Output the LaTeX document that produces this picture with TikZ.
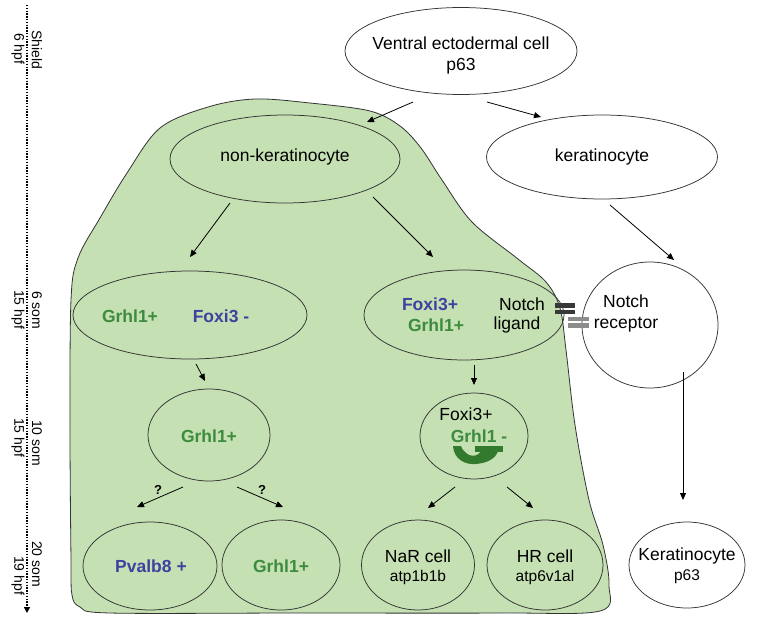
\documentclass[tikz,border=0pt]{standalone}
\usepackage{fontspec}
\setmainfont{Liberation Sans}
\usetikzlibrary{shapes.geometric,arrows.meta,calc}
\definecolor{blobgreen}{HTML}{C5E0B3}
\definecolor{gtext}{HTML}{3D8B3D}
\definecolor{btext}{HTML}{4040A0}
\definecolor{dgreen}{HTML}{347A2E}
\definecolor{edgec}{HTML}{333333}
\definecolor{bardark}{HTML}{383838}
\definecolor{bargray}{HTML}{8C8C8C}
\newcommand\fbig{\fontsize{17.5}{21}\selectfont}
\newcommand\fsml{\fontsize{15.5}{21}\selectfont}
\newcommand\ftl{\fontsize{14}{15}\selectfont}
\begin{document}
\begin{tikzpicture}[x=1pt,y=-1pt,
  cell/.style={ellipse, draw=edgec, line width=0.75pt, inner sep=0pt},
  wcell/.style={cell, fill=white},
  txt/.style={inner sep=0pt, font=\fbig, align=center},
  gtx/.style={txt, text=gtext, font=\fbig\bfseries},
  btx/.style={txt, text=btext, font=\fbig\bfseries},
  arr/.style={-{Triangle[length=7pt,width=6pt]}, line width=0.8pt, draw=black},
  tlab/.style={inner sep=0pt, font=\ftl, rotate=-90, anchor=west},
  qm/.style={inner sep=0pt, font=\fontsize{13}{14}\selectfont\bfseries}
]
\useasboundingbox (0,0) rectangle (771,616);

% green region
\draw[fill=blobgreen, draw=edgec, line width=0.8pt] plot[smooth cycle, tension=0.55] coordinates {
 (71,560) (70,430) (71,300) (78,258) (100,218) (127,173) (160,128) (208,107) (255,99)
 (310,103) (370,111) (400,126) (421,148) (442,180) (472,222) (518,259) (546,282)
 (560,308) (566,350) (575,425) (589,500) (603,545) (609,585) (600,611) (500,613)
 (300,613) (110,613) (80,607) (72,595)};

% timeline
\coordinate (tltop) at (27,5);
\coordinate (tlbot) at (27,613);
\draw[line width=2pt, dash pattern=on 1.4pt off 1.4pt, -{Triangle[length=6pt,width=6pt]}] (tltop) -- (tlbot);
\node[tlab] (t1a) at (37,30) {Shield};
\node[tlab] (t1b) at (18,33) {6 hpf};
\node[tlab] (t2a) at (37,291) {6 som};
\node[tlab] (t2b) at (18,290) {15 hpf};
\node[tlab] (t3a) at (37,420) {10 som};
\node[tlab] (t3b) at (18,418) {15 hpf};
\node[tlab] (t4a) at (37,541) {20 som};
\node[tlab] (t4b) at (18,556) {19 hpf};

% ellipses
\node[wcell, minimum width=232, minimum height=87] (v) at (461,51) {};
\node[wcell, minimum width=231, minimum height=84] (k) at (602,157) {};
\node[cell, minimum width=230, minimum height=88] (nk) at (285,159) {};
\node[cell, minimum width=234, minimum height=88] (gf) at (190,315) {};
\node[cell, minimum width=200, minimum height=90] (fn) at (464,315) {};
\node[wcell, minimum width=136, minimum height=126] (nr) at (650,325) {};
\node[cell, minimum width=122, minimum height=92] (g2) at (209,435) {};
\node[cell, minimum width=108, minimum height=86] (fg) at (474,436) {};
\node[cell, minimum width=134, minimum height=88] (pv) at (150,566) {};
\node[cell, minimum width=118, minimum height=90] (g3) at (281,565) {};
\node[cell, minimum width=113, minimum height=90] (nar) at (418,565) {};
\node[cell, minimum width=116, minimum height=90] (hr) at (545,565) {};
\node[wcell, minimum width=116, minimum height=86] (kp) at (687,565) {};

% texts
\node[txt] (vt) at (461,55) {Ventral ectodermal cell\\p63};
\node[txt] (kt) at (602,157) {keratinocyte};
\node[txt] (nkt) at (285,157) {non-keratinocyte};
\node[gtx] (gft1) at (130,316) {Grhl1+};
\node[btx] (gft2) at (221,316) {Foxi3 -};
\node[btx] (fnt1) at (430,304) {Foxi3+};
\node[gtx] (fnt2) at (436,325) {Grhl1+};
\node[txt] (fnt3) at (522,304) {Notch};
\node[txt] (fnt4) at (517,325) {ligand};
\node[txt] (nrt) at (626,313) {Notch\\receptor};
\node[gtx] (g2t) at (209,436) {Grhl1+};
\node[txt] (fgt1) at (466,414) {Foxi3+};
\node[gtx] (fgt2) at (479,436) {Grhl1 -};
\node[btx] (pvt) at (151,566) {Pvalb8 +};
\node[gtx] (g3t) at (281,566) {Grhl1+};
\node[txt] (nart1) at (418,556) {NaR cell};
\node[txt, font=\fsml] (nart2) at (418,577) {atp1b1b};
\node[txt] (hrt1) at (545,556) {HR cell};
\node[txt, font=\fsml] (hrt2) at (545,577) {atp6v1al};
\node[txt] (kpt1) at (687,556) {Keratinocyte};
\node[txt, font=\fsml] (kpt2) at (687,577) {p63};

% self-inhibition symbol
\fill[dgreen] (453,446) .. controls (454,460) and (466,465) .. (476,464)
  .. controls (488,463) and (496,458) .. (498,451) -- (481,451)
  .. controls (479,455) and (474,457) .. (469,455)
  .. controls (464,452) and (462,449) .. (461,446) -- cycle;
\fill[dgreen] (475,446) rectangle (503,452);

% notch bars
\fill[bardark] (555,303) rectangle (575,307.5);
\fill[bardark] (555,309.5) rectangle (575,314);
\fill[bargray] (568,316.5) rectangle (589,321);
\fill[bargray] (568,323) rectangle (589,327.5);

% arrows
\draw[arr] ($(v)+(-48,51)$) -- ($(nk)+(82,-37)$);
\draw[arr] ($(v)+(26,51)$) -- ($(k)+(-61,-40)$);
\draw[arr] ($(nk)+(-55,44)$) -- ($(gf)+(0,-58)$);
\draw[arr] ($(nk)+(88,38)$) -- ($(fn)+(-31,-58)$);
\draw[arr] ($(k)+(8,48)$) -- ($(nr)+(24,-65)$);
\draw[arr] ($(gf)+(6,49)$) -- ($(g2)+(-4,-54)$);
\draw[arr] ($(fn)+(10,50)$) -- ($(fg)+(0,-51)$);
\draw[arr] ($(g2)+(-26,52)$) -- ($(pv)+(-13,-59)$);
\draw[arr] ($(g2)+(28,52)$) -- ($(g3)+(2,-58)$);
\draw[arr] ($(fg)+(-19,51)$) -- ($(nar)+(10,-57)$);
\draw[arr] ($(fg)+(33,51)$) -- ($(hr)+(-12,-57)$);
\draw[arr] ($(nr)+(33,47)$) -- ($(kp)+(-4,-65)$);

\node[qm] (q1) at (158,490) {?};
\node[qm] (q2) at (262,490) {?};
\end{tikzpicture}
\end{document}
